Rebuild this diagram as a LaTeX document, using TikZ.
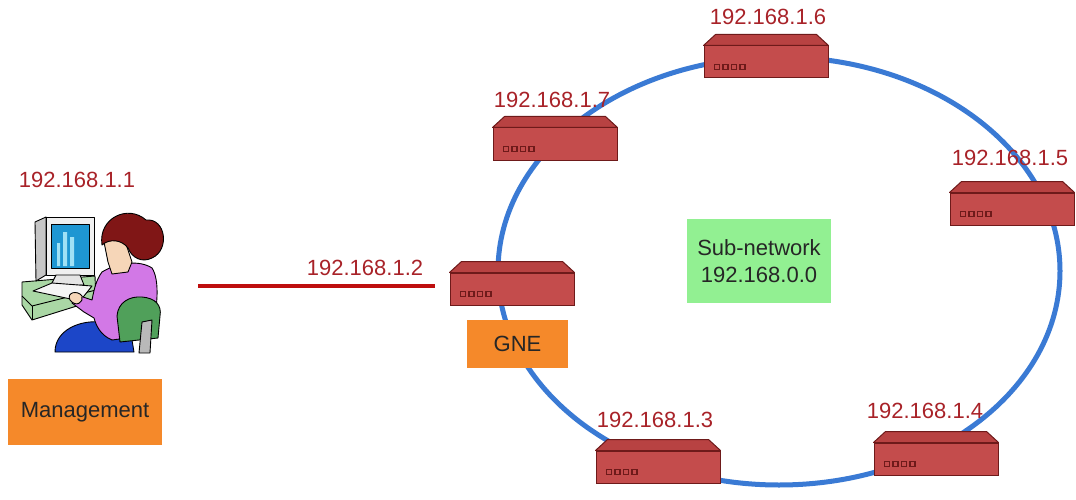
\documentclass[tikz,border=0pt]{standalone}
\usepackage{fontspec}
\setmainfont{Liberation Sans}

\definecolor{ringblue}{RGB}{58,122,212}
\definecolor{routerred}{RGB}{196,76,76}
\definecolor{routertopred}{RGB}{184,66,66}
\definecolor{routeredge}{RGB}{110,26,26}
\definecolor{iptext}{RGB}{168,34,40}
\definecolor{linkred}{RGB}{190,14,14}
\definecolor{boxorange}{RGB}{245,137,42}
\definecolor{boxgreen}{RGB}{146,240,146}
\definecolor{hair}{RGB}{128,22,22}
\definecolor{skin}{RGB}{246,214,184}
\definecolor{blouse}{RGB}{210,120,230}
\definecolor{skirt}{RGB}{28,70,200}
\definecolor{chairgreen}{RGB}{80,160,90}
\definecolor{desk}{RGB}{170,215,165}
\definecolor{screen}{RGB}{30,150,210}
\definecolor{bars}{RGB}{160,225,245}

\tikzset{
  ipname/.style={text=iptext, font=\fontsize{22}{26}\selectfont, inner sep=0pt},
  routerfront/.style={draw=routeredge, fill=routerred, line width=1pt,
    minimum width=124pt, minimum height=32pt, inner sep=0pt},
  routertop/.style={draw=routeredge, fill=routertopred, line width=1pt, line join=round},
  port/.style={draw=routeredge, line width=1.2pt},
  tagbox/.style={font=\fontsize{22}{27}\selectfont, text=black!85, inner sep=0pt, align=center},
  ring/.style={draw=ringblue, line width=5pt},
  link/.style={draw=linkred, line width=4pt},
  art/.style={draw=black, line width=0.9pt, line join=round},
}

% a network element: front panel, bevelled top and four port lights
\newcommand\netrouter[3]{%
  \node[routerfront] (#1) at (#2,#3) {};
  \draw[routertop] (#1.north west) -- ([shift={(12pt,11pt)}]#1.north west)
    -- ([shift={(-12pt,11pt)}]#1.north east) -- (#1.north east) -- cycle;
  \foreach \k in {0,...,3}
    \draw[port] ([shift={(11pt+\k*8.5pt,-2.5pt)}]#1.west) rectangle ++(5,5);
}

\begin{document}
\begin{tikzpicture}[x=1pt,y=-1pt]
\useasboundingbox (0,0) rectangle (1076,500);

% ring of the sub-network
\draw[ring] (779,271) ellipse [x radius=281, y radius=214];

% network elements
\netrouter{r6}{766}{62}
\netrouter{r7}{555}{144}
\netrouter{r5}{1012}{209}
\netrouter{r2}{512}{289}
\netrouter{r3}{658}{467}
\netrouter{r4}{936}{459}

% addresses
\node[ipname] (ip1) at (77,180) {192.168.1.1};
\node[ipname] (ip2) at (365,268) {192.168.1.2};
\node[ipname] (ip3) at (655,420) {192.168.1.3};
\node[ipname] (ip4) at (925,411) {192.168.1.4};
\node[ipname] (ip5) at (1010,158) {192.168.1.5};
\node[ipname] (ip6) at (768,17) {192.168.1.6};
\node[ipname] (ip7) at (552,100) {192.168.1.7};

% tags
\node[tagbox, fill=boxorange, minimum width=101pt, minimum height=48pt] (gne) at (517.5,344) {GNE};
\node[tagbox, fill=boxorange, minimum width=154pt, minimum height=66pt] (mgmt) at (85,412) {Management};
\node[tagbox, fill=boxgreen, minimum width=144pt, minimum height=84pt] (subnet) at (759,261) {Sub-network\\192.168.0.0};

% management workstation
\node[minimum width=144pt, minimum height=148pt, inner sep=0pt] (pc) at (90,281) {};
\begin{scope}
  % desk
  \draw[art, fill=desk] (22,282) -- (95,276) -- (96,300) -- (32,320) -- (22,305) -- cycle;
  \draw[art] (22,296) -- (32,306) -- (96,290);
  \draw[art] (32,306) -- (32,320);
  % monitor
  \draw[art, fill=gray!45] (35,222) -- (46,217) -- (46,275) -- (36,281) -- cycle;
  \draw[art, fill=gray!12] (46,217) rectangle (94,275);
  \draw[art, fill=screen] (51,224) rectangle (89,268);
  \fill[bars] (57,243) rectangle (60,266) (63,232) rectangle (67,266) (70,237) rectangle (74,266);
  \draw[art, fill=gray!20] (56,275) -- (80,275) -- (84,285) -- (50,287) -- cycle;
  % keyboard
  \draw[art, fill=gray!8] (33,291) -- (52,283) -- (92,286) -- (80,301) -- cycle;
  % skirt
  \draw[art, fill=skirt] (55,352) .. controls (55,330) and (80,320) .. (100,322)
    -- (130,328) -- (134,352) -- cycle;
  % blouse and arm
  \draw[art, fill=blouse] (102,272) .. controls (118,262) and (140,260) .. (152,268)
    .. controls (160,280) and (158,310) .. (150,335)
    -- (112,340) .. controls (100,335) and (96,325) .. (94,318)
    -- (84,312) -- (72,303) -- (80,296) -- (92,300)
    .. controls (94,290) and (96,280) .. (102,272) -- cycle;
  % chair back and post
  \draw[art, fill=chairgreen] (120,342) -- (117,316) .. controls (118,302) and (130,296) .. (142,297)
    .. controls (155,298) and (162,305) .. (160,316) -- (158,338) -- cycle;
  \draw[art, fill=gray!55] (142,322) -- (152,320) -- (150,353) -- (139,353) -- cycle;
  % hands
  \draw[art, fill=skin] (70,300) .. controls (66,292) and (78,290) .. (82,296)
    .. controls (84,302) and (76,308) .. (70,300) -- cycle;
  % neck and face
  \draw[art, fill=skin] (104,242) -- (124,238) -- (132,262) -- (128,272) -- (112,274)
    -- (108,262) -- cycle;
  % hair with bun
  \draw[art, fill=hair] (102,245) .. controls (98,218) and (128,204) .. (146,220)
    .. controls (166,218) and (170,250) .. (152,258)
    .. controls (142,263) and (132,258) .. (128,248)
    .. controls (122,240) and (110,238) .. (102,245) -- cycle;
\end{scope}

% management link to the gateway element
\draw[link] ([xshift=36pt,yshift=-5pt]pc.east) -- ([xshift=-15pt,yshift=3pt]r2.west);
\end{tikzpicture}
\end{document}
